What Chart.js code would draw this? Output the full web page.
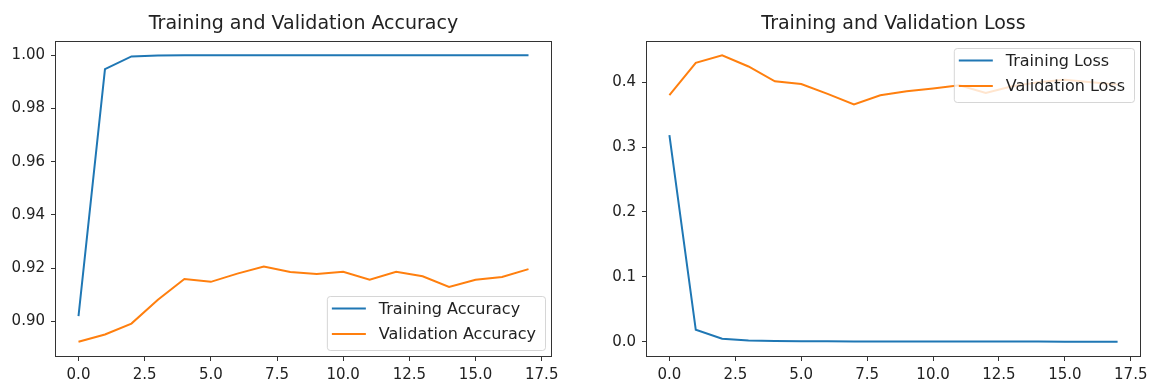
<!DOCTYPE html>
<html>
<head>
<meta charset="utf-8">
<title>Training history</title>
<script src="https://cdn.jsdelivr.net/npm/chart.js@4.4.1/dist/chart.umd.min.js"></script>
<style>
  html, body { margin: 0; padding: 0; background: #ffffff; }
  #wrap { position: relative; width: 1156px; height: 387px; overflow: hidden; }
  #wrap canvas { position: absolute; top: 0; }
  #accChart { left: 0; }
  #lossChart { left: 578px; }
</style>
</head>
<body>
<div id="wrap">
  <canvas id="accChart" width="578" height="387"></canvas>
  <canvas id="lossChart" width="578" height="387"></canvas>
</div>
<script>
// Per-epoch history of the training run
const epochs = [0, 1, 2, 3, 4, 5, 6, 7, 8, 9, 10, 11, 12, 13, 14, 15, 16, 17];

const trainAcc = [0.9019, 0.9948, 0.9996, 0.9999, 1.0, 1.0, 1.0, 1.0, 1.0,
                  1.0, 1.0, 1.0, 1.0, 1.0, 1.0, 1.0, 1.0, 1.0];
const valAcc   = [0.8923, 0.8950, 0.8991, 0.9081, 0.9159, 0.9148, 0.9179, 0.9206, 0.9185,
                  0.9178, 0.9186, 0.9156, 0.9186, 0.9169, 0.9129, 0.9156, 0.9166, 0.9196];

const trainLoss = [0.3184, 0.0187, 0.0050, 0.0022, 0.0014, 0.0011, 0.0009, 0.0008, 0.0007,
                   0.0006, 0.0006, 0.0005, 0.0005, 0.0005, 0.0005, 0.0004, 0.0004, 0.0004];
const valLoss   = [0.3797, 0.4295, 0.4411, 0.4239, 0.4011, 0.3970, 0.3817, 0.3656, 0.3797,
                   0.3858, 0.3900, 0.3950, 0.3833, 0.3934, 0.3995, 0.4036, 0.3995, 0.3960];

// Tick labels
const epochTicks = [0, 2.5, 5, 7.5, 10, 12.5, 15, 17.5];
const accTicks   = [0.90, 0.92, 0.94, 0.96, 0.98, 1.00];
const lossTicks  = [0.0, 0.1, 0.2, 0.3, 0.4];

const BLUE = '#1f77b4';
const ORANGE = '#ff7f0e';
const FONT = "'DejaVu Sans', 'Liberation Sans', sans-serif";
const INK = '#222222';
const SPINE = '#333333';

// Axis limits with a 5% margin around the data, like an autoscaled plot
function paddedRange(...series) {
  const all = [].concat(...series);
  const lo = Math.min(...all), hi = Math.max(...all);
  const m = (hi - lo) * 0.05;
  return { min: lo - m, max: hi + m };
}

function points(values) {
  return epochs.map((e, i) => ({ x: e, y: values[i] }));
}

// Box around the plot, the title above it and an in-plot legend
const framePlugin = {
  id: 'frame',
  afterDatasetsDraw(chart, args, opts) {
    const { ctx, chartArea: a } = chart;
    const fs = 16;
    ctx.save();
    ctx.font = `${fs}px ${FONT}`;
    const items = chart.data.datasets.map(d => ({ label: d.label, color: d.borderColor }));
    const tw = Math.max(...items.map(it => ctx.measureText(it.label).width));
    const padL = 5, handle = 34, gap = 13, padR = 9, h = 54;
    const w = padL + handle + gap + tw + padR;
    const x = a.right - 6 - w;
    const y = opts.corner === 'upper right' ? a.top + 7 : a.bottom - 6 - h;
    ctx.beginPath();
    ctx.roundRect(x + 0.5, y + 0.5, w, h, 3);
    ctx.fillStyle = 'rgba(255,255,255,0.8)';
    ctx.fill();
    ctx.strokeStyle = 'rgba(204,204,204,0.8)';
    ctx.lineWidth = 1;
    ctx.stroke();
    items.forEach((it, i) => {
      const cy = y + 12.5 + i * 25.5;
      ctx.beginPath();
      ctx.moveTo(x + padL, cy);
      ctx.lineTo(x + padL + handle, cy);
      ctx.strokeStyle = it.color;
      ctx.lineWidth = 2;
      ctx.stroke();
      ctx.fillStyle = INK;
      ctx.textAlign = 'left';
      ctx.textBaseline = 'middle';
      ctx.fillText(it.label, x + padL + handle + gap, cy + 1);
    });
    ctx.restore();
  },
  afterDraw(chart, args, opts) {
    const { ctx, chartArea: a } = chart;
    ctx.save();
    ctx.strokeStyle = SPINE;
    ctx.lineWidth = 1;
    const l = Math.round(a.left) - 0.5, t = Math.round(a.top) + 0.5;
    const r = Math.round(a.right) + 0.5, b = Math.round(a.bottom) + 0.5;
    ctx.strokeRect(l, t, r - l, b - t);
    ctx.fillStyle = INK;
    ctx.font = `19px ${FONT}`;
    ctx.textAlign = 'center';
    ctx.textBaseline = 'alphabetic';
    ctx.fillText(opts.title, (a.left + a.right) / 2, 29);
    ctx.restore();
  }
};

function makeChart(canvasId, cfg) {
  const yr = paddedRange(cfg.series[0].data, cfg.series[1].data);
  const xr = paddedRange(epochs);
  const tickFont = { family: FONT, size: 15 };
  return new Chart(document.getElementById(canvasId), {
    type: 'line',
    data: {
      datasets: cfg.series.map(s => ({
        label: s.label,
        data: points(s.data),
        borderColor: s.color,
        backgroundColor: s.color,
        borderWidth: 2,
        pointRadius: 0,
        tension: 0,
        fill: false
      }))
    },
    options: {
      responsive: false,
      devicePixelRatio: 1,
      animation: false,
      events: [],
      layout: { padding: { top: 41, right: cfg.padRight, bottom: 0, left: 0 } },
      plugins: {
        legend: { display: false },
        tooltip: { enabled: false },
        title: { display: false },
        frame: { title: cfg.title, corner: cfg.corner }
      },
      scales: {
        x: {
          type: 'linear',
          min: xr.min,
          max: xr.max,
          afterBuildTicks: s => { s.ticks = epochTicks.map(v => ({ value: v })); },
          afterFit: s => { s.height = 31; s.paddingLeft = 0; s.paddingRight = 0; },
          ticks: {
            callback: v => Number(v).toFixed(1),
            color: INK,
            font: tickFont,
            padding: 5,
            maxRotation: 0,
            autoSkip: false
          },
          grid: { drawOnChartArea: false, drawTicks: true, tickLength: 5, color: SPINE, lineWidth: 1 },
          border: { display: false }
        },
        y: {
          type: 'linear',
          min: yr.min,
          max: yr.max,
          afterBuildTicks: s => { s.ticks = cfg.yTicks.map(v => ({ value: v })); },
          afterFit: s => { s.width = cfg.axisWidth; s.paddingTop = 0; s.paddingBottom = 0; },
          ticks: {
            callback: v => Number(v).toFixed(cfg.yDigits),
            color: INK,
            font: tickFont,
            padding: 6,
            autoSkip: false
          },
          grid: { drawOnChartArea: false, drawTicks: true, tickLength: 5, color: SPINE, lineWidth: 1 },
          border: { display: false }
        }
      }
    },
    plugins: [framePlugin]
  });
}

Chart.defaults.font.family = FONT;

makeChart('accChart', {
  title: 'Training and Validation Accuracy',
  corner: 'lower right',
  series: [
    { label: 'Training Accuracy', data: trainAcc, color: BLUE },
    { label: 'Validation Accuracy', data: valAcc, color: ORANGE }
  ],
  yTicks: accTicks,
  yDigits: 2,
  axisWidth: 56,
  padRight: 27
});

makeChart('lossChart', {
  title: 'Training and Validation Loss',
  corner: 'upper right',
  series: [
    { label: 'Training Loss', data: trainLoss, color: BLUE },
    { label: 'Validation Loss', data: valLoss, color: ORANGE }
  ],
  yTicks: lossTicks,
  yDigits: 1,
  axisWidth: 69,
  padRight: 16
});
</script>
</body>
</html>
